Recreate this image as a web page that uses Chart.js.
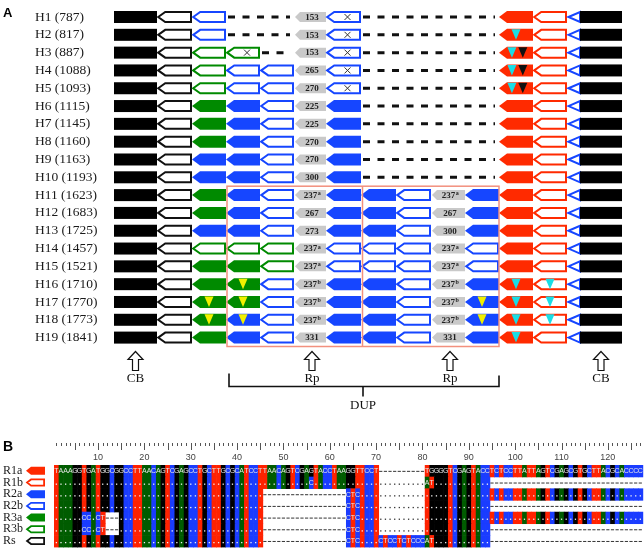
<!DOCTYPE html>
<html><head><meta charset="utf-8">
<script src="https://cdn.jsdelivr.net/npm/chart.js@4.4.1/dist/chart.umd.min.js"></script>
<style>
html,body{margin:0;padding:0;background:#fff;}
#wrap{position:relative;width:644px;height:554px;overflow:hidden;background:#fff;}
#a{position:absolute;left:0;top:0;width:644px;height:420px;}
#b{position:absolute;left:0;top:420px;width:644px;height:134px;}
</style></head><body>
<div id="wrap"><canvas id="a" width="644" height="420"></canvas><canvas id="b" width="644" height="134"></canvas></div>
<script>
// ---------------- DATA (panel A) ----------------
const haplotypes = ['H1','H2','H3','H4','H5','H6','H7','H8','H9','H10','H11','H12','H13','H14','H15','H16','H17','H18','H19'];
const sizes = [787,817,887,1088,1093,1115,1145,1160,1163,1193,1623,1683,1725,1457,1521,1710,1770,1773,1841];
// gene tokens: type + flags (x = deleted, y = yellow, c = cyan, k = black marker); '-' = absent
const repeatsLeft = [
  ['R2b','-','-'],['R2b','-','-'],['R3b','R3bx','-'],['R3b','R2b','R2b'],['R3b','R2b','R2b'],
  ['R3a','R2a','R2b'],['R3a','R2a','R2b'],['R3a','R2a','R2b'],['R2a','R2a','R2b'],['R2a','R2a','R2b'],
  ['R3a','R2a','R2b'],['R3a','R2a','R2b'],['R2a','R2a','R2b'],['R3b','R3b','R3b'],['R3a','R3a','R3b'],
  ['R3a','R3ay','R2b'],['R3ay','R3ay','R2b'],['R3ay','R2ay','R2b'],['R3a','R2a','R2b']
];
const tagsLeft = ['153','153','153','265','270','225','225','270','270','300','237a','267','273','237a','237a','237b','237b','237b','331'];
const repeatMid = ['R2bx','R2bx','R2bx','R2bx','R2bx','R2a','R2a','R2a','R2a','R2a','R2a','R2a','R2a','R2b','R2b','R2a','R2a','R2a','R2a'];
const dupRepeats = [
  ['-','-'],['-','-'],['-','-'],['-','-'],['-','-'],['-','-'],['-','-'],['-','-'],['-','-'],['-','-'],
  ['R2a','R2b'],['R2a','R2b'],['R2a','R2b'],['R2b','R2b'],['R2b','R2b'],['R2a','R2b'],['R2a','R2b'],['R2a','R2b'],['R2a','R2b']
];
const tagsDup = ['-','-','-','-','-','-','-','-','-','-','237a','267','300','237a','237a','237b','237b','237b','331'];
const dupLast = ['-','-','-','-','-','-','-','-','-','-','R2a','R2a','R2a','R2b','R2b','R2a','R2ay','R2ay','R2a'];
const r1aGenes = ['R1a','R1ac','R1ack','R1ack','R1ack','R1a','R1a','R1a','R1a','R1a','R1a','R1a','R1a','R1a','R1a','R1ac','R1ac','R1ac','R1ac'];
const r1bGenes = ['R1b','R1b','R1b','R1b','R1b','R1b','R1b','R1b','R1b','R1b','R1b','R1b','R1b','R1b','R1b','R1bc','R1bc','R1bc','R1b'];
const siteLabels = ['CB','Rp','Rp','CB'];
const dupLabel = 'DUP';

// ---------------- DATA (panel B) ----------------
const seqRows = ['R1a','R1b','R2a','R2b','R3a','R3b','Rs'];
const rulerLabels = [10,20,30,40,50,60,70,80,90,100,110,120];
const seqR1a = ['TAAAGGTGAT','GGCGGCCTTA','ACAGTCGAGC','CTGCTTGCGC','ATCCT','TAACAGTCGA','GTACCTAAGG','TTCCT','----------','TGGGGTCGAG','TACC','TCTCCTTATT','AGTCGAGCGT','GCTTACGCAC','CCC'];
const seqR1b = ['..........','..........','..........','..........','.....','..........','C','..........','....','..........','AT','..........','..','----------','----------','----------','---'];
const seqR2a = ['..........','..........','..........','..........','.....','----------','--------','CTC','....','..........','..........','....','..........','..........','..........','...'];
const seqR2b = ['..........','..........','..........','..........','.....','----------','--------','CTC','....','..........','..........','....','----------','----------','----------','---'];
const seqR3a = ['......','CC.CT---','..........','..........','..........','.','----------','--------','CTC','....','..........','..........','....','..........','..........','..........','...'];
const seqR3b = ['......','CC.CT---','..........','..........','..........','.','----------','--------','CTC','....','..........','..........','....','----------','----------','----------','---'];
const seqRs  = ['..........','..........','..........','..........','.....','----------','--------','CTC','....','CTCCTCTCCC','AT','..........','..','----------','----------','----------','---'];

// ---------------- LAYOUT / STYLE ----------------
const slotOrigin = 114;
const slotWidths = [43,35,34,34,34,32,35,35,35,34,34,34,34,13,42];
const siteSlots = [0,5,9,14];
const GENE_COL = {R1:'#ff2a00', R2:'#1646ff', R3:'#008a00', Rs:'#111111'};
const BASE_COL = {T:'#ff2200', A:'#005c00', G:'#000000', C:'#1a3cff'};
const MARK_COL = {c:'#19dde6', k:'#111111', y:'#f2f000'};

function genePath(ctx,x0,x1,yc,h,head){
  ctx.beginPath();
  ctx.moveTo(x0,yc); ctx.lineTo(x0+head,yc-h/2); ctx.lineTo(x1,yc-h/2);
  ctx.lineTo(x1,yc+h/2); ctx.lineTo(x0+head,yc+h/2); ctx.closePath();
}
function drawGene(ctx,type,x0,x1,yc,h,head,lw){
  const fam = type.startsWith('Rs') ? 'Rs' : type.slice(0,2);
  const filled = type[2]==='a';
  const c = GENE_COL[fam];
  ctx.lineJoin='miter';
  if(filled){ genePath(ctx,x0,x1,yc,h,head); ctx.fillStyle=c; ctx.fill(); }
  else { genePath(ctx,x0+lw*0.6,x1-lw/2,yc,h-lw,head-1); ctx.fillStyle='#fff'; ctx.fill(); ctx.lineWidth=lw; ctx.strokeStyle=c; ctx.stroke(); }
}
function rowSlots(i){
  return ['CB','Rs'].concat(repeatsLeft[i],[tagsLeft[i],repeatMid[i]],dupRepeats[i],[tagsDup[i],dupLast[i],r1aGenes[i],r1bGenes[i],'TRI','CB']);
}

const drawA = {
  id:'drawA',
  afterDraw(chart){
    const {ctx, chartArea:ca, scales:{x,y}} = chart;
    const edges=[slotOrigin]; slotWidths.forEach(w=>edges.push(edges[edges.length-1]+w));
    const px = k => x.getPixelForValue(edges[k]);
    const band = (ca.bottom-ca.top)/haplotypes.length;
    const H = 12, HEAD = 8;
    ctx.save();
    ctx.fillStyle='#000'; ctx.font='bold 13px "Liberation Sans", Arial'; ctx.textAlign='left'; ctx.textBaseline='alphabetic';
    ctx.fillText('A',3,17);
    haplotypes.forEach((hname,i)=>{
      const yc = y.getPixelForValue(i);
      const slots = rowSlots(i);
      // dashed gaps
      let k=0;
      while(k<slots.length){
        if(slots[k]==='-'){
          let j=k; while(j+1<slots.length && slots[j+1]==='-') j++;
          ctx.beginPath(); ctx.setLineDash([7,7.5]); ctx.lineWidth=3; ctx.strokeStyle='#111';
          ctx.moveTo(px(k)+2,yc); ctx.lineTo(px(j+1)-4,yc); ctx.stroke(); ctx.setLineDash([]);
          k=j+1;
        } else k++;
      }
      slots.forEach((t,k)=>{
        if(t==='-') return;
        const x0=px(k), x1=px(k+1);
        if(t==='CB'){ ctx.fillStyle='#000'; ctx.fillRect(x0,yc-H/2,x1-x0,H); return; }
        if(t==='TRI'){
          ctx.beginPath(); ctx.moveTo(x0+1.5,yc); ctx.lineTo(x1,yc-H/2+1); ctx.lineTo(x1,yc+H/2-1); ctx.closePath();
          ctx.fillStyle='#fff'; ctx.fill(); ctx.lineWidth=2; ctx.strokeStyle=GENE_COL.R2; ctx.stroke(); return;
        }
        if(k===5||k===9){
          genePath(ctx,x0+1,x1,yc,10,5); ctx.fillStyle='#c9c9c9'; ctx.fill();
          const m = t.match(/^(\d+)([a-z]?)$/);
          ctx.fillStyle='#222'; ctx.font='bold 9px "Liberation Serif", serif'; ctx.textBaseline='middle';
          const cx=(x0+x1)/2+2;
          if(m[2]){
            const w1=ctx.measureText(m[1]).width; ctx.font='bold 6px "Liberation Serif", serif';
            const w2=ctx.measureText(m[2]).width; const sx=cx-(w1+w2)/2;
            ctx.textAlign='left'; ctx.font='bold 9px "Liberation Serif", serif'; ctx.fillText(m[1],sx,yc+0.5);
            ctx.font='bold 6px "Liberation Serif", serif'; ctx.fillText(m[2],sx+w1+0.5,yc-1.5);
          } else { ctx.textAlign='center'; ctx.fillText(t,cx,yc+0.5); }
          return;
        }
        const type = t.startsWith('Rs') ? 'Rs' : t.slice(0,3);
        const flags = t.startsWith('Rs') ? '' : t.slice(3);
        drawGene(ctx,type,x0,x1,yc,H,HEAD,2);
        if(flags.includes('x')){
          const cx=(x0+HEAD+x1)/2;
          ctx.beginPath(); ctx.lineWidth=1; ctx.strokeStyle='#333';
          ctx.moveTo(cx-3,yc-3); ctx.lineTo(cx+3,yc+3); ctx.moveTo(cx+3,yc-3); ctx.lineTo(cx-3,yc+3); ctx.stroke();
        }
        const marks = flags.replace('x','').split('');
        marks.forEach((mk,mi)=>{
          const w=x1-x0;
          const cx = marks.length===1 ? x0+w*0.5 : x0+w*(mi===0?0.38:0.7);
          ctx.beginPath(); ctx.moveTo(cx-4.5,yc-5.5); ctx.lineTo(cx+4.5,yc-5.5); ctx.lineTo(cx,yc+5); ctx.closePath();
          ctx.fillStyle=MARK_COL[mk]; ctx.fill();
        });
      });
    });
    // duplication box
    const boxTop = (y.getPixelForValue(9)+y.getPixelForValue(10))/2;
    const boxBot = y.getPixelForValue(haplotypes.length-1)+band/2;
    ctx.strokeStyle='#f2907e'; ctx.lineWidth=1.5;
    ctx.strokeRect(px(3)+1,boxTop,px(11)-px(3)-1,boxBot-boxTop);
    ctx.beginPath(); ctx.moveTo(px(7)+1.5,boxTop); ctx.lineTo(px(7)+1.5,boxBot); ctx.stroke();
    // site arrows
    const b = ca.bottom;
    siteSlots.forEach((s,si)=>{
      const cx=(px(s)+px(s+1))/2+(s===5||s===9?2:0); const t=b+5;
      ctx.beginPath();
      ctx.moveTo(cx,t); ctx.lineTo(cx+7.5,t+8); ctx.lineTo(cx+3,t+8); ctx.lineTo(cx+3,t+19);
      ctx.lineTo(cx-3,t+19); ctx.lineTo(cx-3,t+8); ctx.lineTo(cx-7.5,t+8); ctx.closePath();
      ctx.fillStyle='#fff'; ctx.fill(); ctx.lineWidth=1.2; ctx.strokeStyle='#111'; ctx.stroke();
      ctx.fillStyle='#111'; ctx.font='13px "Liberation Serif", serif'; ctx.textAlign='center'; ctx.textBaseline='middle';
      ctx.fillText(siteLabels[si],cx,b+32);
    });
    // bracket
    const bl=px(3)+3, br=px(11), bm=px(7)+2;
    ctx.beginPath(); ctx.lineWidth=1.6; ctx.strokeStyle='#111';
    ctx.moveTo(bl,b+27); ctx.lineTo(bl,b+40); ctx.lineTo(br,b+40); ctx.lineTo(br,b+29);
    ctx.moveTo(bm,b+40); ctx.lineTo(bm,b+50); ctx.stroke();
    ctx.fillStyle='#111'; ctx.font='13px "Liberation Serif", serif'; ctx.textAlign='center'; ctx.textBaseline='middle';
    ctx.fillText(dupLabel,bm,b+59);
    ctx.restore();
  }
};

const drawB = {
  id:'drawB',
  afterDraw(chart){
    const {ctx, chartArea:ca, scales:{x,y}} = chart;
    const rows = [seqR1a,seqR1b,seqR2a,seqR2b,seqR3a,seqR3b,seqRs].map(r=>r.join(''));
    const cons = rows[0];
    const band = (ca.bottom-ca.top)/seqRows.length;
    ctx.save();
    ctx.fillStyle='#000'; ctx.font='bold 14px "Liberation Sans", Arial'; ctx.textAlign='left'; ctx.textBaseline='alphabetic';
    ctx.fillText('B',3,31);
    // legend icons
    seqRows.forEach((t,r)=>{
      const yc=y.getPixelForValue(r);
      drawGene(ctx,t,ca.left-28,ca.left-9,yc,8,5,1.8);
    });
    ctx.beginPath(); ctx.rect(ca.left,0,ca.right-ca.left,chart.height); ctx.clip();
    // ruler
    ctx.strokeStyle='#555'; ctx.lineWidth=1;
    for(let c=1;c<=cons.length;c++){
      const cx=Math.round(x.getPixelForValue(c))+0.5;
      ctx.beginPath(); ctx.moveTo(cx,23); ctx.lineTo(cx,c%5===0?30:26); ctx.stroke();
    }
    ctx.fillStyle='#444'; ctx.font='9px "Liberation Sans", Arial'; ctx.textAlign='center'; ctx.textBaseline='middle';
    rulerLabels.forEach(v=>ctx.fillText(String(v),x.getPixelForValue(v),38));
    // cell backgrounds
    rows.forEach((row,r)=>{
      const yc=y.getPixelForValue(r), top=yc-band/2;
      for(let c=1;c<=row.length;c++){
        const ch=row[c-1]; const base = ch==='.' ? cons[c-1] : ch;
        if(base==='-') continue;
        const xa=x.getPixelForValue(c-0.5), xb=x.getPixelForValue(c+0.5);
        ctx.fillStyle=BASE_COL[base]; ctx.fillRect(xa,top,xb-xa+0.6,band+0.6);
      }
    });
    // cell symbols
    ctx.font='7px "Liberation Sans Narrow", "Liberation Sans", Arial'; ctx.textAlign='center'; ctx.textBaseline='middle';
    rows.forEach((row,r)=>{
      const yc=y.getPixelForValue(r);
      for(let c=1;c<=row.length;c++){
        const ch=row[c-1]; const cx=x.getPixelForValue(c);
        if(ch==='-'){ ctx.fillStyle='#333'; ctx.fillRect(cx-1.6,yc,3.2,1); }
        else if(ch==='.'){
          if(cons[c-1]==='-'){ ctx.fillStyle='#333'; ctx.fillRect(cx-0.6,yc+1,1.3,1.3); }
          else { ctx.fillStyle='#f4f4f4'; ctx.fillRect(cx-0.6,yc+1,1.3,1.3); }
        } else { ctx.fillStyle='#e6e6e6'; ctx.fillText(ch,cx,yc+0.5); }
      }
    });
    ctx.restore();
  }
};

const rowLabels = haplotypes.map((h,i)=>h+' ('+sizes[i]+')');
new Chart(document.getElementById('a'),{
  type:'scatter',
  data:{labels:rowLabels,datasets:[]},
  options:{
    responsive:false, animation:false, events:[],
    layout:{padding:{left:35,top:3.5,bottom:73.5,right:0}},
    plugins:{legend:{display:false},tooltip:{enabled:false}},
    scales:{
      x:{type:'linear',min:108,max:644,display:false},
      y:{type:'category',labels:rowLabels,offset:true,grid:{display:false},border:{display:false},
         ticks:{crossAlign:'far',autoSkip:false,padding:0,color:'#1a1a1a',font:{family:'"Liberation Serif", serif',size:13.5}},
         afterFit(s){s.width=73;}}
    }
  },
  plugins:[drawA]
});
new Chart(document.getElementById('b'),{
  type:'scatter',
  data:{labels:seqRows,datasets:[]},
  options:{
    responsive:false, animation:false, events:[],
    layout:{padding:{left:3,top:45,bottom:4,right:0}},
    plugins:{legend:{display:false},tooltip:{enabled:false}},
    scales:{
      x:{type:'linear',min:0.5,max:127.8,display:false},
      y:{type:'category',labels:seqRows,offset:true,grid:{display:false},border:{display:false},
         ticks:{crossAlign:'far',autoSkip:false,padding:0,color:'#1a1a1a',font:{family:'"Liberation Serif", serif',size:12}},
         afterFit(s){s.width=51;}}
    }
  },
  plugins:[drawB]
});
</script>
</body></html>
